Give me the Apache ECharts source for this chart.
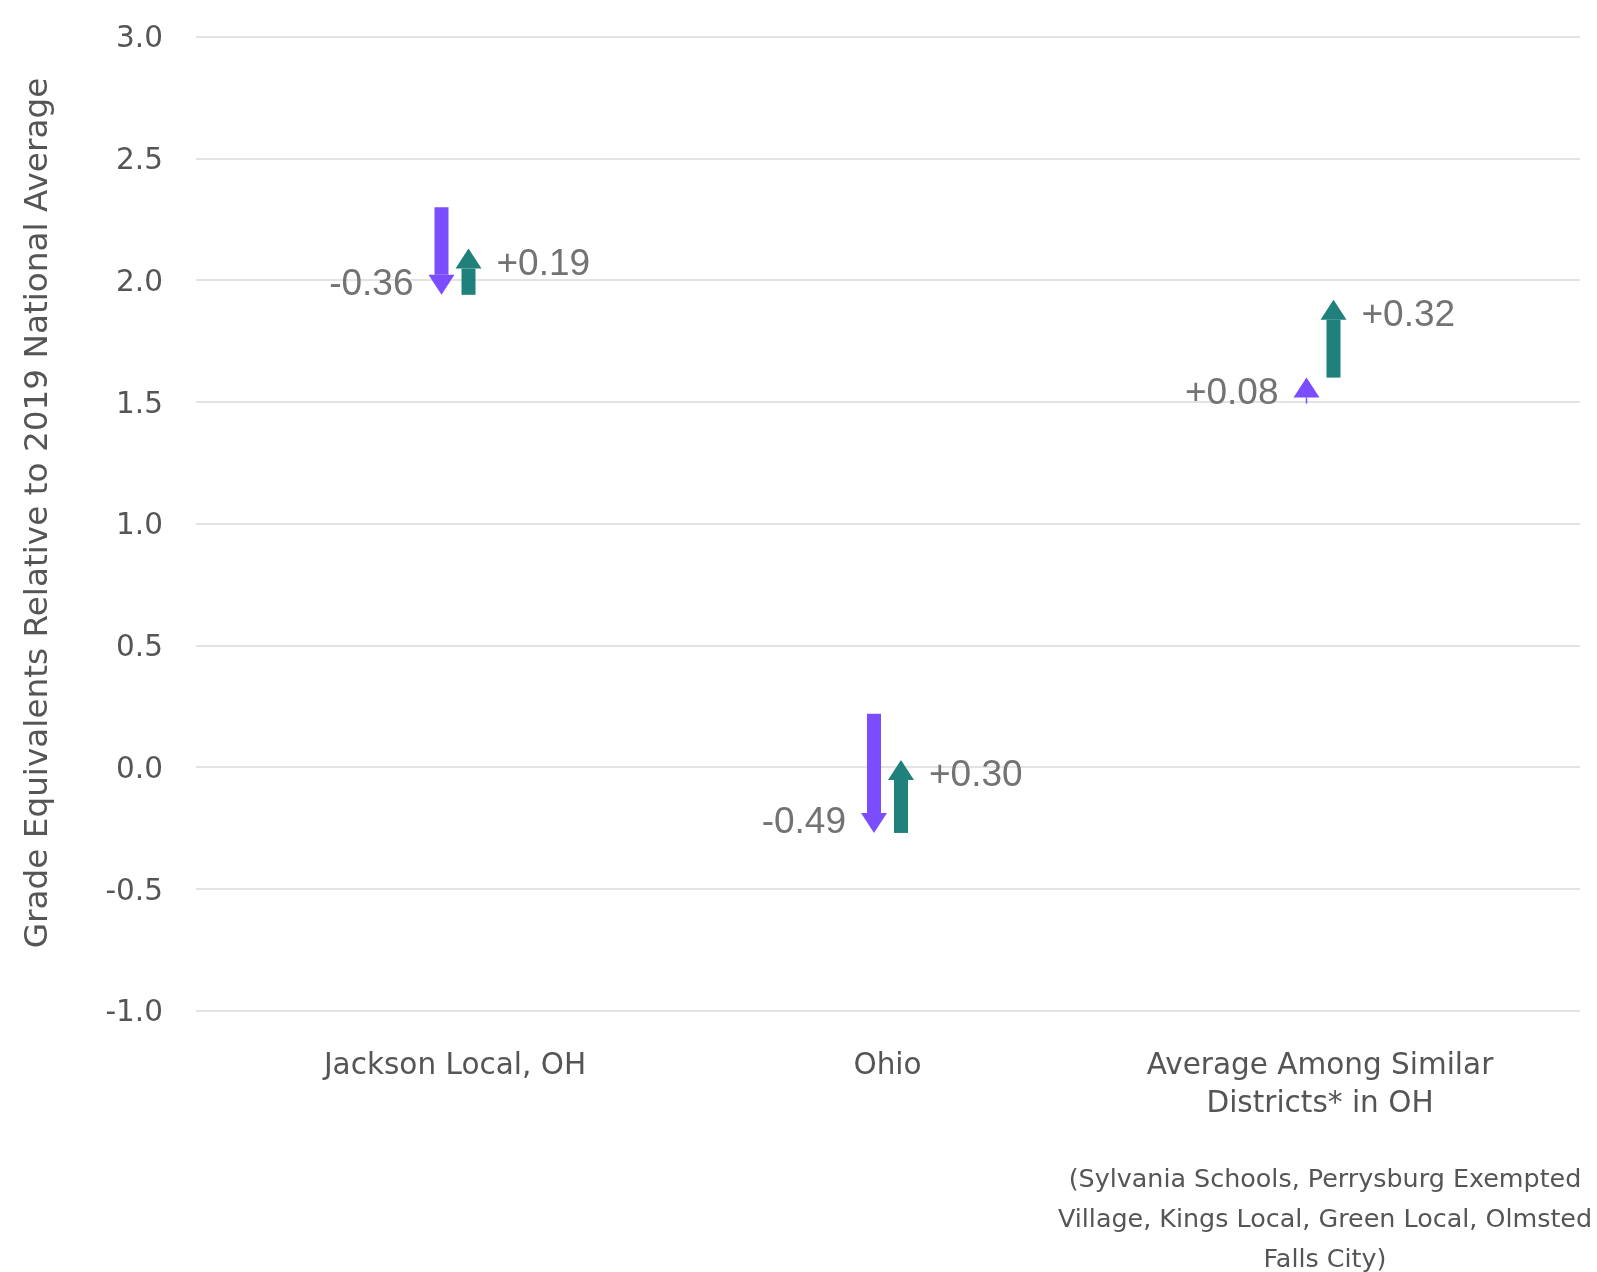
<!DOCTYPE html>
<html><head><meta charset="utf-8">
<script src="https://cdn.jsdelivr.net/npm/echarts@6/dist/echarts.min.js"></script>
<style>html,body{margin:0;padding:0;background:#fff}#c{width:1597px;height:1272px}</style>
</head><body><div id="c"></div>
<script>
// ---- data ----
const categories = ['Jackson Local, OH', 'Ohio', 'Average Among Similar\nDistricts* in OH'];
const baseline2019 = [2.30, 0.22, 1.52];
const change2022 = [-0.36, -0.49, 0.08];
const change2023 = [0.19, 0.30, 0.32];
const yMin = -1.0, yMax = 3.0, yInterval = 0.5;
const yAxisTitle = 'Grade Equivalents Relative to 2019 National Average';
const footnote = '(Sylvania Schools, Perrysburg Exempted\nVillage, Kings Local, Green Local, Olmsted\nFalls City)';

const fmt = v => (v > 0 ? '+' : '') + v.toFixed(2);
const purpleData = categories.map((c, i) => [i, baseline2019[i], baseline2019[i] + change2022[i]]);
const purpleLabels = change2022.map(fmt);
const greenData = categories.map((c, i) => {
  const s = baseline2019[i] + change2022[i];
  return [i, s, s + change2023[i]];
});
const greenLabels = change2023.map(fmt);

const FONT = '"DejaVu Sans", Verdana, sans-serif';

function arrowRenderer(color, dx, side, labels) {
  return function (params, api) {
    const p0 = api.coord([api.value(0), api.value(1)]);
    const p1 = api.coord([api.value(0), api.value(2)]);
    const x = p0[0] + dx;
    const y0 = p0[1], y1 = p1[1];
    const dir = y1 < y0 ? -1 : 1;
    const headLen = 20, headW = 26, shaftW = 14;
    const len = Math.abs(y1 - y0);
    const yb = y1 - dir * headLen;
    const children = [];
    if (len > headLen) {
      children.push({ type: 'rect', shape: { x: x - shaftW / 2, y: Math.min(y0, yb), width: shaftW, height: Math.abs(yb - y0) }, style: { fill: color } });
    } else {
      children.push({ type: 'line', shape: { x1: x, y1: yb, x2: x, y2: yb - dir * 6 }, style: { stroke: color, lineWidth: 1.5 } });
    }
    children.push({ type: 'polygon', shape: { points: [[x - headW / 2, yb], [x + headW / 2, yb], [x, y1]] }, style: { fill: color } });
    children.push({
      type: 'text',
      style: {
        text: labels[params.dataIndex], x: x + side * 28, y: y1 - dir * 13 + 3,
        align: side < 0 ? 'right' : 'left', verticalAlign: 'middle',
        fill: '#737373', font: '37px "Liberation Sans", Arial, sans-serif'
      }
    });
    return { type: 'group', children };
  };
}

const chart = echarts.init(document.getElementById('c'), null, { renderer: 'canvas' });
chart.setOption({
  animation: false,
  backgroundColor: '#fff',
  grid: [
    { left: 196, right: 17, top: 36.7, bottom: 261.3 },
    { left: 238.75, right: 60.75, top: 36.7, bottom: 261.3 }
  ],
  xAxis: [
    { gridIndex: 0, type: 'value', min: 0, max: 1, show: false },
    {
      gridIndex: 1, type: 'category', data: categories,
      axisLine: { show: false }, axisTick: { show: false },
      axisLabel: { color: '#555', fontSize: 29.5, fontFamily: FONT, lineHeight: 38, margin: 37, interval: 0 }
    }
  ],
  yAxis: [
    {
      gridIndex: 0, type: 'value', min: yMin, max: yMax, interval: yInterval,
      axisLine: { show: false }, axisTick: { show: false },
      axisLabel: { color: '#555', fontSize: 29.5, fontFamily: FONT, margin: 33, verticalAlign: 'top', lineHeight: 6, formatter: v => v.toFixed(1) },
      splitLine: { lineStyle: { color: '#e3e3e3', width: 2 } }
    },
    { gridIndex: 1, type: 'value', min: yMin, max: yMax, show: false, splitLine: { show: false } }
  ],
  graphic: [
    {
      type: 'text', x: 39, y: 513, rotation: Math.PI / 2,
      style: { text: yAxisTitle, align: 'center', verticalAlign: 'middle', fill: '#555', font: '32.7px ' + FONT }
    },
    {
      type: 'text', x: 1325, y: 1160,
      style: { text: footnote, align: 'center', verticalAlign: 'top', fill: '#555', font: '25.4px ' + FONT, lineHeight: 40 }
    }
  ],
  series: [
    {
      type: 'custom', xAxisIndex: 1, yAxisIndex: 1, data: purpleData,
      encode: { x: 0, y: [1, 2] },
      renderItem: arrowRenderer('#7c4dff', -13.5, -1, purpleLabels)
    },
    {
      type: 'custom', xAxisIndex: 1, yAxisIndex: 1, data: greenData,
      encode: { x: 0, y: [1, 2] },
      renderItem: arrowRenderer('#1f807c', 13.5, 1, greenLabels)
    }
  ]
});
</script></body></html>
